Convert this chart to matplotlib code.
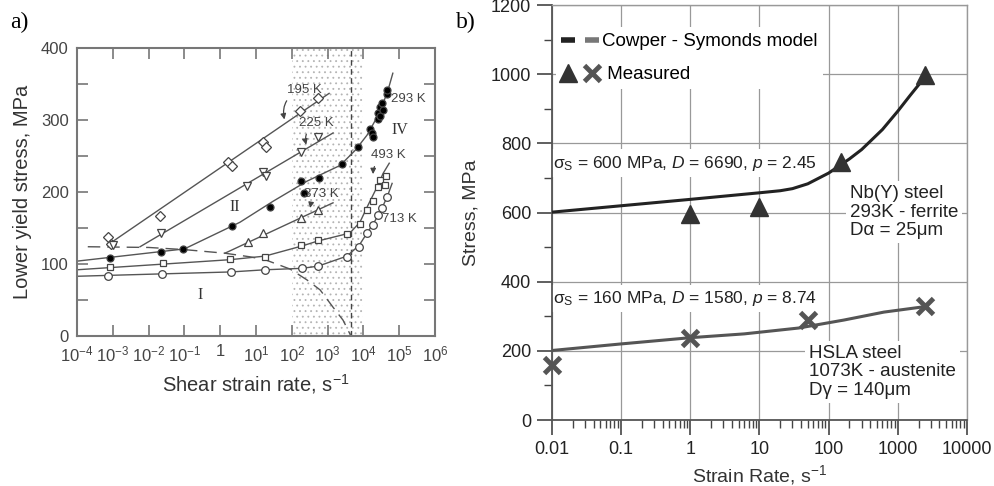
import matplotlib.pyplot as plt
from matplotlib.lines import Line2D
from matplotlib.legend_handler import HandlerTuple
import numpy as np

plt.rcParams['font.family'] = ['Liberation Sans', 'DejaVu Sans']
plt.rcParams['mathtext.fontset'] = 'custom'
plt.rcParams['mathtext.rm'] = 'Liberation Sans'
plt.rcParams['mathtext.it'] = 'Liberation Sans:italic'
plt.rcParams['mathtext.default'] = 'regular'
plt.rcParams['hatch.linewidth'] = 0.6

# ---- panel a: log10(shear strain rate) and lower yield stress (MPa)
t195_x = [-3.13, -3.05, -1.68, 0.22, 0.33, 1.2, 1.28, 2.23, 2.73]
t195_y = [137, 128, 167, 242, 236, 269, 262, 312, 330]
fit195_x = [-3.1, 3.04]
fit195_y = [128, 337]

t225_x = [-3.0, -1.65, 0.75, 1.2, 1.28, 2.26, 2.73]
t225_y = [126, 143, 208, 228, 222, 255, 276]
fit225_x = [-2.24, 3.15]
fit225_y = [124, 282]

t293_x = [-3.08, -1.65, -1.04, 0.33, 1.39, 2.26, 2.34, 2.76, 3.40, 3.85, 4.18,
          4.24, 4.27, 4.41, 4.41, 4.46, 4.46, 4.52, 4.55, 4.66, 4.66]
t293_y = [108, 117, 121, 153, 179, 215, 199, 219, 239, 263, 288,
          282, 276, 301, 310, 306, 318, 324, 314, 336, 342]
fit293_x = [-4, -1.0, 0.55, 1.47, 2.42, 3.35, 3.77, 4.1, 4.38, 4.66, 4.82]
fit293_y = [104, 121, 158, 187, 215, 237, 258, 279, 304, 337, 365]

t373_x = [0.78, 1.2, 2.26, 2.73]
t373_y = [130, 143, 164, 175]
fit373_x = [0.13, 3.15]
fit373_y = [115, 185]

t493_x = [-3.08, -1.6, 0.27, 1.25, 2.26, 2.73, 3.54, 3.91, 4.10, 4.27, 4.41, 4.46, 4.60, 4.63]
t493_y = [96, 101, 107, 110, 126, 133, 142, 156, 175, 188, 207, 217, 210, 222]
fit493_x = [-4, 0.27, 1.25, 2.28, 2.73, 3.62, 3.9, 4.13, 4.38, 4.55, 4.72]
fit493_y = [92, 106, 111, 125, 132, 143, 158, 182, 207, 226, 240]

t713_x = [-3.13, -1.63, 0.3, 1.25, 2.28, 2.73, 3.54, 3.88, 4.10, 4.27, 4.41, 4.52, 4.66]
t713_y = [83, 86, 89, 92, 94, 97, 110, 124, 143, 154, 168, 178, 193]
fit713_x = [-4, 0.3, 1.25, 2.28, 2.73, 3.54, 3.88, 4.1, 4.3, 4.5, 4.66, 4.8]
fit713_y = [83, 89, 92, 94, 97, 111, 126, 143, 158, 176, 193, 212]

athermal_x = [-3.7, -2.0, -1.0, 0.13, 0.83, 1.25, 1.95, 2.42, 2.79, 3.15, 3.43, 3.65]
athermal_y = [124, 123, 120, 115, 110, 106, 93, 78, 64, 40, 22, 0]

a_xtick_exp = [-4, -3, -2, -1, 0, 1, 2, 3, 4, 5, 6]
a_xtick_labels = ['10$^{-4}$', '10$^{-3}$', '10$^{-2}$', '10$^{-1}$', '1', '10$^{1}$',
                  '10$^{2}$', '10$^{3}$', '10$^{4}$', '10$^{5}$', '10$^{6}$']

# ---- panel b: strain rate (1/s) and stress (MPa)
nb_fit_x = [0.01, 1, 10, 20, 30, 50, 100, 150, 200, 300, 400, 600, 1000, 1500, 2500]
nb_fit_y = [601, 638, 657, 663, 669, 683, 714, 738, 755, 782, 806, 840, 893, 938, 993]
nb_meas_x = [1, 10, 150, 2500]
nb_meas_y = [597, 615, 746, 997]

hsla_fit_x = [0.01, 0.1, 1, 6, 37, 166, 630, 2500]
hsla_fit_y = [201, 220, 238, 249, 266, 289, 312, 328]
hsla_meas_x = [0.01, 1, 50, 2500]
hsla_meas_y = [160, 238, 288, 331]

b_xticks = [0.01, 0.1, 1, 10, 100, 1000, 10000]
b_xtick_labels = ['0.01', '0.1', '1', '10', '100', '1000', '10000']

fig = plt.figure(figsize=(9.94, 4.86), dpi=100)
ax = fig.add_axes([0.0775, 0.3086, 0.3602, 0.5926])
ax2 = fig.add_axes([0.5553, 0.1358, 0.4175, 0.8539])

# ---------------- panel a
lc = '#555555'
def e(v):
    return 10 ** np.array(v, dtype=float)

ax.axvspan(1e2, 1e4, facecolor='none', edgecolor='#b4b4b4', hatch='...', linewidth=0, zorder=0)
ax.axvline(4.5e3, color='#444444', lw=1.0, ls=(0, (4, 2.5)), zorder=1)
ax.plot(e(athermal_x), athermal_y, color=lc, lw=1.0, ls=(0, (9, 5)), zorder=2)

for fx, fy in [(fit195_x, fit195_y), (fit225_x, fit225_y), (fit293_x, fit293_y),
               (fit373_x, fit373_y), (fit493_x, fit493_y), (fit713_x, fit713_y)]:
    ax.plot(e(fx), fy, color=lc, lw=1.0, zorder=2)

mk = dict(ls='none', mec='#444444', mew=0.9, zorder=3)
ax.plot(e(t195_x), t195_y, marker='D', ms=5, mfc='white', **mk)
ax.plot(e(t225_x), t225_y, marker='v', ms=6, mfc='white', **mk)
ax.plot(e(t293_x), t293_y, marker='o', ms=5, mfc='black', **mk)
ax.plot(e(t373_x), t373_y, marker='^', ms=6, mfc='white', **mk)
ax.plot(e(t493_x), t493_y, marker='s', ms=5, mfc='white', **mk)
ax.plot(e(t713_x), t713_y, marker='o', ms=5.5, mfc='white', **mk)

ax.set_xscale('log')
ax.set_xlim(1e-4, 1e6)
ax.set_ylim(0, 400)
ax.set_xticks(e(a_xtick_exp))
ax.set_xticklabels(a_xtick_labels)
ax.xaxis.set_minor_locator(plt.NullLocator())
ax.set_yticks(np.arange(0, 401, 50))
ax.set_yticklabels(['0', '', '100', '', '200', '', '300', '', '400'])
ax.tick_params(direction='in', length=8, width=1.2, color='#777777', top=True, right=True,
               labelsize=12, labelcolor='#444444', pad=6)
for s in ax.spines.values():
    s.set_color('#777777')
    s.set_linewidth(1.5)
ax.set_xlabel('Shear strain rate, s$^{-1}$', fontsize=14.5, color='#333333', labelpad=6)
ax.set_ylabel('Lower yield stress, MPa', fontsize=14.5, color='#333333', labelpad=6)

tk = dict(fontsize=9.5, color='#444444', ha='center', va='center')
arr = dict(arrowstyle='-|>', color='#444444', lw=0.9, mutation_scale=8)
ax.annotate('195 K', xy=(10 ** 1.81, 297), xytext=(10 ** 2.34, 342), textcoords='data',
            arrowprops=dict(connectionstyle='arc3,rad=0.5', **arr), **tk)
ax.annotate('225 K', xy=(10 ** 2.42, 262), xytext=(10 ** 2.68, 296),
            arrowprops=dict(connectionstyle='arc3,rad=0.4', **arr), **tk)
ax.annotate('373 K', xy=(10 ** 2.5, 174), xytext=(10 ** 2.82, 197),
            arrowprops=dict(connectionstyle='arc3,rad=0.3', **arr), **tk)
ax.annotate('493 K', xy=(10 ** 4.27, 221), xytext=(10 ** 4.69, 251),
            arrowprops=dict(connectionstyle='arc3,rad=0.4', **arr), **tk)
ax.text(10 ** 5.25, 329, '293 K', **tk)
ax.text(10 ** 5.0, 163, '713 K', **tk)
rk = dict(fontsize=11.5, color='#333333', ha='center', va='center', family='Liberation Serif')
ax.text(10 ** 5.02, 286, 'IV', **rk)
ax.text(10 ** 0.41, 179, 'II', **rk)
ax.text(10 ** -0.56, 57, 'I', **rk)

# ---------------- panel b
ax2.set_xscale('log')
ax2.set_xlim(0.01, 10000)
ax2.set_ylim(0, 1200)
ax2.grid(True, which='major', color='#999999', lw=0.9)
ax2.set_axisbelow(True)
ax2.plot(nb_fit_x, nb_fit_y, color='#222222', lw=2.2, zorder=3)
ax2.plot(hsla_fit_x, hsla_fit_y, color='#555555', lw=2.2, zorder=3)
ax2.plot(nb_meas_x, nb_meas_y, ls='none', marker='^', ms=13, color='#333333', zorder=4,
         clip_on=False)
ax2.plot(hsla_meas_x, hsla_meas_y, ls='none', marker='x', ms=12, mew=3.5, color='#555555',
         zorder=4, clip_on=False)

ax2.set_xticks(b_xticks)
ax2.set_xticklabels(b_xtick_labels)
ax2.set_yticks(np.arange(0, 1201, 200))
ax2.set_yticks(np.arange(100, 1200, 200), minor=True)
ax2.tick_params(which='major', direction='out', length=11, width=1.2, color='#444444',
                labelsize=13, labelcolor='#222222', pad=4)
ax2.tick_params(which='minor', direction='out', length=6, width=1.0, color='#444444')
for s in ax2.spines.values():
    s.set_color('#555555')
    s.set_linewidth(1.3)
for s in ['top', 'right']:
    ax2.spines[s].set_color('#999999')
    ax2.spines[s].set_linewidth(1.0)
ax2.set_xlabel('Strain Rate, s$^{-1}$', fontsize=14, color='#333333', labelpad=4)
ax2.set_ylabel('Stress, MPa', fontsize=14, color='#333333', labelpad=8)

h1 = (Line2D([], [], color='#222222', lw=4, solid_capstyle='butt'),
      Line2D([], [], color='#777777', lw=4, solid_capstyle='butt'))
h2 = (Line2D([], [], ls='none', marker='^', ms=13, color='#333333'),
      Line2D([], [], ls='none', marker='x', ms=12, mew=3.5, color='#555555'))
leg = ax2.legend([h1, h2], ['Cowper - Symonds model', ' Measured'],
                 handler_map={tuple: HandlerTuple(ndivide=None, pad=0.5)},
                 loc='upper left', bbox_to_anchor=(0.0, 0.955), fontsize=13.5,
                 handlelength=2.0, handletextpad=0.15, labelspacing=0.85,
                 frameon=True, facecolor='white', edgecolor='none', framealpha=1,
                 borderpad=0.3, borderaxespad=0.2)

wb = dict(facecolor='white', edgecolor='none', pad=3)
ax2.text(0.0102, 743, r'$\sigma_S$ = 600 MPa, $\mathit{D}$ = 6690, $\mathit{p}$ = 2.45',
         fontsize=12.5, color='#222222', ha='left', va='center', bbox=wb, zorder=2)
ax2.text(0.0102, 352, r'$\sigma_S$ = 160 MPa, $\mathit{D}$ = 1580, $\mathit{p}$ = 8.74',
         fontsize=12.5, color='#222222', ha='left', va='center', bbox=wb, zorder=2)
ax2.text(202, 601, 'Nb(Y) steel\n293K - ferrite\nD\u03b1 = 25\u03bcm', fontsize=13.5,
         color='#222222', ha='left', va='center', linespacing=1.1, bbox=wb, zorder=2)
ax2.text(52, 139, 'HSLA steel\n1073K - austenite\nD\u03b3 = 140\u03bcm', fontsize=13.5,
         color='#222222', ha='left', va='center', linespacing=1.1, bbox=wb, zorder=2)

fig.text(0.010, 0.975, 'a)', fontsize=17, family='Liberation Serif', va='top')
fig.text(0.459, 0.975, 'b)', fontsize=17, family='Liberation Serif', va='top')

fig.savefig('out.png', dpi=100)
